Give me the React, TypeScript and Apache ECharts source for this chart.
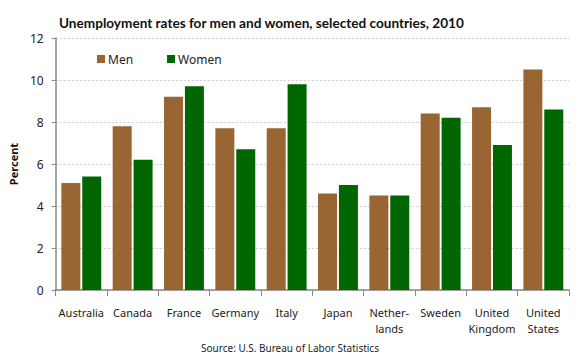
import React, { useEffect, useRef } from "react";
import * as echarts from "echarts";

const countries = ["Australia", "Canada", "France", "Germany", "Italy", "Japan", "Nether-\nlands", "Sweden", "United\nKingdom", "United\nStates"];
const men = [5.1, 7.8, 9.2, 7.7, 7.7, 4.6, 4.5, 8.4, 8.7, 10.5];
const women = [5.4, 6.2, 9.7, 6.7, 9.8, 5.0, 4.5, 8.2, 6.9, 8.6];

const FONT = "'Noto Sans', 'DejaVu Sans', sans-serif";

export default function App() {
  const ref = useRef<HTMLDivElement>(null);
  useEffect(() => {
    if (!ref.current) return;
    const chart = echarts.init(ref.current, undefined, { renderer: "svg" });
    chart.setOption({
      animation: false,
      backgroundColor: "#ffffff",
      title: {
        text: "Unemployment rates for men and women, selected countries, 2010",
        left: 54,
        top: 11,
        textStyle: { fontFamily: "Lato, sans-serif", fontWeight: "bold", fontSize: 13.6, color: "#111" },
      },
      legend: {
        left: 97,
        top: 53,
        padding: 0,
        itemWidth: 8,
        itemHeight: 8,
        itemGap: 34,
        icon: "rect",
        textStyle: { fontFamily: FONT, fontSize: 12, color: "#222", padding: [0, 0, 0, -2] },
        data: ["Men", "Women"],
      },
      graphic: [
        {
          type: "text",
          left: "center",
          top: 343,
          style: { text: "Source: U.S. Bureau of Labor Statistics", font: `10px ${FONT}`, fill: "#222" },
        },
      ],
      grid: { left: 45, right: 11, top: 38, bottom: 73, containLabel: false },
      xAxis: {
        type: "category",
        data: countries,
        axisLine: { lineStyle: { color: "#888", width: 1.5 } },
        axisTick: { show: true, length: 6, lineStyle: { color: "#888" } },
        axisLabel: { fontFamily: FONT, fontSize: 11, color: "#222", margin: 14, lineHeight: 16, interval: 0 },
      },
      yAxis: {
        type: "value",
        min: 0,
        max: 12,
        interval: 2,
        name: "Percent",
        nameLocation: "middle",
        nameGap: 32,
        nameTextStyle: { fontFamily: FONT, fontWeight: "bold", fontSize: 11, color: "#111" },
        axisLine: { show: true, lineStyle: { color: "#888", width: 1.5 } },
        axisTick: { show: true, length: 4, lineStyle: { color: "#888" } },
        axisLabel: { fontFamily: FONT, fontSize: 12, color: "#222", margin: 12 },
        splitLine: { lineStyle: { color: "#c8c8c8", type: [2, 2] } },
      },
      series: [
        { name: "Men", type: "bar", data: men, itemStyle: { color: "#996633" }, barWidth: 19, barGap: "10%" },
        { name: "Women", type: "bar", data: women, itemStyle: { color: "#006600" }, barWidth: 19, barGap: "10%" },
      ],
    });
    return () => chart.dispose();
  }, []);
  return <div ref={ref} style={{ width: 580, height: 363, position: "absolute", left: 0, top: 0 }} />;
}
